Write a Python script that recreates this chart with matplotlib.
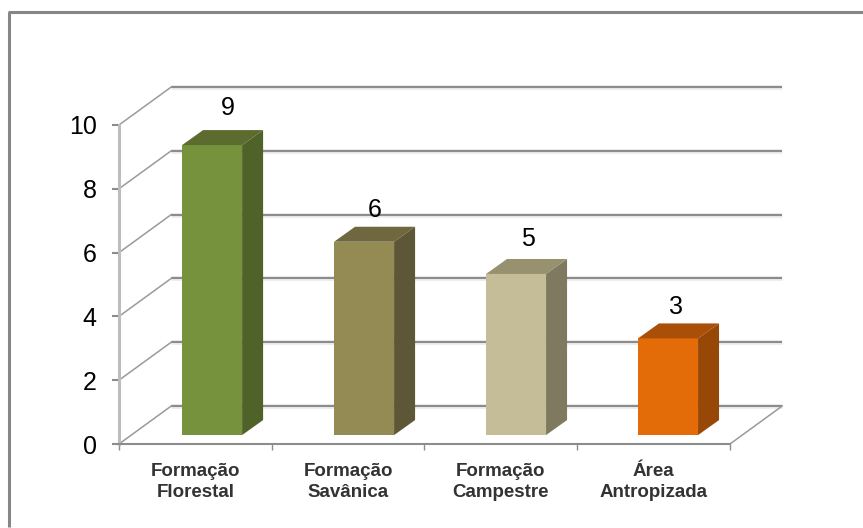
import matplotlib
matplotlib.use('Agg')
import matplotlib.pyplot as plt
from matplotlib.lines import Line2D

categorias = ['Formação\nFlorestal', 'Formação\nSavânica', 'Formação\nCampestre', 'Área\nAntropizada']
valores = [9, 6, 5, 3]
ticks_y = [0, 2, 4, 6, 8, 10]

cores_frente = ['#76923c', '#948a54', '#c4bd97', '#e36c09']
cores_topo = ['#5c6c2e', '#6f683f', '#97916f', '#a94f08']
cores_lado = ['#4f6228', '#5d5637', '#7f7a5f', '#974806']

# ajuste dos rotulos em pixels
rotulo_dx = [16, 11, 12, 8]
rotulo_dy = [37, 32, 35, 31]

plt.rcParams['font.family'] = ['Liberation Sans', 'DejaVu Sans']

fig = plt.figure(figsize=(8.63, 5.28), dpi=100)
ax = fig.add_axes([0, 0, 1, 1])
ax.set_xlim(-0.779, 4.871)
ax.set_ylim(-2.633, 13.918)

# profundidade da parede e das barras, em unidades dos eixos
parede_dx, parede_dy = 0.342, 1.191
barra_dx, barra_dy = 0.1375, 0.47
barra_base = 0.28
barra_recuo = 0.413
barra_larg = 0.393
barra_passo = 0.995
escala = 1.01

# grade do fundo e diagonais da parede
for v in ticks_y:
    ax.plot([parede_dx, 4 + parede_dx], [v + parede_dy, v + parede_dy], color='#ececec', lw=3.4, zorder=1, solid_capstyle='butt')
    ax.plot([parede_dx, 4 + parede_dx], [v + parede_dy, v + parede_dy], color='#8c8c8c', lw=1.5, zorder=2, solid_capstyle='butt')
    ax.plot([0, parede_dx], [v, v + parede_dy], color='#9a9a9a', lw=1.1, zorder=2)
ax.plot([4, 4 + parede_dx], [0, parede_dy], color='#9a9a9a', lw=1.1, zorder=2)

# barras 3D
for i, v in enumerate(valores):
    x0 = i * barra_passo + barra_recuo
    x1 = x0 + barra_larg
    y0 = barra_base
    y1 = barra_base + v * escala
    ax.fill([x0, x1, x1, x0], [y0, y0, y1, y1], color=cores_frente[i], lw=0, zorder=5)
    ax.fill([x0, x1, x1 + barra_dx, x0 + barra_dx], [y1, y1, y1 + barra_dy, y1 + barra_dy], color=cores_topo[i], lw=0, zorder=5)
    ax.fill([x1, x1 + barra_dx, x1 + barra_dx, x1], [y0, y0 + barra_dy, y1 + barra_dy, y1], color=cores_lado[i], lw=0, zorder=5)
    ax.annotate(str(v), (x0 + barra_larg / 2, y1), xytext=(rotulo_dx[i], rotulo_dy[i]), textcoords='offset pixels',
                ha='center', va='center', fontsize=18, color='black', zorder=6)

# eixos
for lado in ['top', 'right']:
    ax.spines[lado].set_visible(False)
ax.spines['left'].set_position(('data', 0))
ax.spines['left'].set_bounds(0, 10)
ax.spines['left'].set_color('#bdbdbd')
ax.spines['left'].set_linewidth(2.2)
ax.spines['bottom'].set_position(('data', 0))
ax.spines['bottom'].set_bounds(0, 4)
ax.spines['bottom'].set_color('#8c8c8c')
ax.spines['bottom'].set_linewidth(1.5)

ax.set_yticks(ticks_y)
ax.tick_params(axis='y', length=5, width=1.5, color='#8c8c8c', pad=11, labelsize=18, labelcolor='black')
ax.set_xticks(range(5))
ax.set_xticklabels([])
ax.tick_params(axis='x', length=4, width=1, color='#8c8c8c')
ax.set_xticks([i + 0.5 for i in range(4)], minor=True)
ax.set_xticklabels(categorias, minor=True, fontsize=13.5, fontweight='bold', color='#333333', linespacing=1.25)
ax.tick_params(axis='x', which='minor', length=0, pad=14)

# moldura
fig.add_artist(Line2D([9 / 863, 9 / 863], [1 / 528, 516 / 528], color='#868686', lw=2.2, solid_capstyle='butt'))
fig.add_artist(Line2D([8 / 863, 1], [516 / 528, 516 / 528], color='#868686', lw=2.2, solid_capstyle='butt'))

fig.savefig('out.png', dpi=100)
